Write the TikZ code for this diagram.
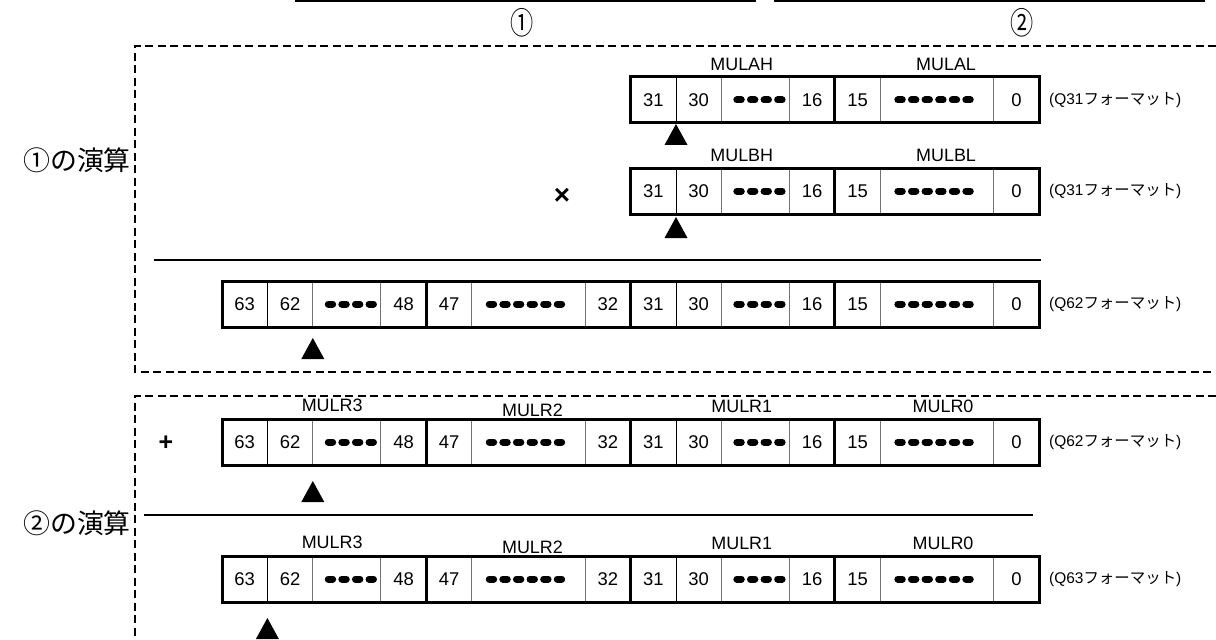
\documentclass[tikz,border=0pt]{standalone}
\usepackage{graphicx}
\usepackage{fontspec}
\setmainfont{Liberation Sans}
\newfontfamily\jp{Noto Sans CJK JP}
\tikzset{
  num/.style={font=\fontsize{18.5}{21}\selectfont, inner sep=0pt},
  reglab/.style={font=\fontsize{18}{21}\selectfont, inner sep=0pt},
  qlab/.style={font=\fontsize{15.5}{18}\selectfont, anchor=west, inner sep=0pt},
  oplab/.style={font=\jp\fontsize{27}{30}\selectfont, anchor=east, inner sep=0pt},
  hdr/.style={font=\jp\fontsize{31}{33}\selectfont, inner sep=0pt},
  sym/.style={font=\bfseries\fontsize{28}{30}\selectfont, inner sep=0pt},
  outerline/.style={line width=3bp},
  regsep/.style={line width=3bp},
  cellsep/.style={line width=1bp},
  cellsepg/.style={line width=1bp, black!55},
  dashbox/.style={line width=2bp, dash pattern=on 8bp off 4.5bp},
  rule/.style={line width=1.2bp},
  bitdot/.style={line width=7bp, line cap=round},
  tri/.style={fill=black},
}
\newcommand\dotgroup[3]{%
  \foreach \k in {1,...,#2}{%
    \draw[bitdot] ([xshift={(\k-(#2+1)/2)*13.6bp+(#3)-2.2bp}]#1) -- ++(4.4bp,0);
  }}
% one pair of registers (9 units wide), origin = top-left corner of the pair
\newcommand\regpair[6]{%
  \node[num] (#1a) at (0.5,23) {#2};
  \node[num] (#1b) at (1.5,23) {#3};
  \coordinate (#1c) at (2.75,23); \dotgroup{#1c}{4}{4bp}
  \node[num] (#1d) at (4,23) {#4};
  \node[num] (#1e) at (5,23) {#5};
  \coordinate (#1f) at (6.75,23); \dotgroup{#1f}{6}{-3bp}
  \node[num] (#1g) at (8.5,23) {#6};
  \draw[cellsep] (1,0) -- (1,46);
  \draw[cellsepg] (2,0) -- (2,46) (3.5,0) -- (3.5,46) (5.5,0) -- (5.5,46) (8,0) -- (8,46);
  \draw[regsep] (4.5,0) -- (4.5,46);
  \draw[outerline] (0,0) rectangle (9,46);
}
\begin{document}
\begin{tikzpicture}[x=1bp,y=-1bp]
\useasboundingbox (0,0) rectangle (1216,640);

% header rules and marks
\coordinate (h1a) at (295,1); \coordinate (h1b) at (756,1);
\coordinate (h2a) at (774,1); \coordinate (h2b) at (1205,1);
\draw[rule] (h1a) -- (h1b);
\draw[rule] (h2a) -- (h2b);
\node[hdr] (m1) at (522,23) {\scalebox{0.75}[1]{①}};
\node[hdr] (m2) at (1022,23) {\scalebox{0.75}[1]{②}};

% dashed frames
\coordinate (f1a) at (1216,46); \coordinate (f1b) at (135,46);
\coordinate (f1c) at (135,372); \coordinate (f1d) at (1216,372);
\draw[dashbox] (f1a) -- (f1b) -- (f1c) -- (f1d);
\coordinate (f2a) at (1216,396); \coordinate (f2b) at (135,396);
\coordinate (f2c) at (135,640);
\draw[dashbox] (f2a) -- (f2b) -- (f2c);

\node[oplab] (op1) at (131,160) {①の演算};
\node[oplab] (op2) at (131,523) {②の演算};

% Row A : MULAH / MULAL
\begin{scope}[shift={(630.6bp,-77bp)}, x=45.4bp]
  \regpair{A}{31}{30}{16}{15}{0}
  \node[reglab, xshift=9bp] (labAH) at (2.25,-12.5) {MULAH};
  \node[reglab, xshift=9bp] (labAL) at (6.75,-12.5) {MULAL};
  \coordinate (triA) at (1,47);
  \fill[tri] (triA) -- ++(-11.5bp,-21bp) -- ++(23bp,0) -- cycle;
\end{scope}
\node[qlab] (qA) at (1049,100) {(Q31{\jp フォーマット})};

% Row B : MULBH / MULBL
\begin{scope}[shift={(630.6bp,-168bp)}, x=45.4bp]
  \regpair{B}{31}{30}{16}{15}{0}
  \node[reglab, xshift=9bp] (labBH) at (2.25,-13) {MULBH};
  \node[reglab, xshift=9bp] (labBL) at (6.75,-13) {MULBL};
  \coordinate (triB) at (1,49);
  \fill[tri] (triB) -- ++(-11.5bp,-21bp) -- ++(23bp,0) -- cycle;
\end{scope}
\node[qlab] (qB) at (1049,191) {(Q31{\jp フォーマット})};
\node[sym] (times) at (562,196) {×};

\coordinate (r1a) at (154,260); \coordinate (r1b) at (1041,260);
\draw[rule] (r1a) -- (r1b);

% Row C : product
\begin{scope}[shift={(222bp,-281bp)}, x=45.4bp]
  \regpair{Cu}{63}{62}{48}{47}{32}
  \begin{scope}[xshift=408.6bp]
    \regpair{Cl}{31}{30}{16}{15}{0}
  \end{scope}
  \coordinate (triC) at (2,57);
  \fill[tri] (triC) -- ++(-11.5bp,-21bp) -- ++(23bp,0) -- cycle;
\end{scope}
\node[qlab] (qC) at (1049,304) {(Q62{\jp フォーマット})};

% Row D : MULR3..0 (Q62)
\begin{scope}[shift={(222bp,-419bp)}, x=45.4bp]
  \regpair{Du}{63}{62}{48}{47}{32}
  \begin{scope}[xshift=408.6bp]
    \regpair{Dl}{31}{30}{16}{15}{0}
  \end{scope}
  \node[reglab, xshift=8bp] (labD3) at (2.25,-13.5) {MULR3};
  \node[reglab, xshift=4bp] (labD2) at (6.75,-8.5) {MULR2};
  \node[reglab, xshift=9bp] (labD1) at (11.25,-12.5) {MULR1};
  \node[reglab, xshift=6bp] (labD0) at (15.75,-12.5) {MULR0};
  \coordinate (triD) at (2,62);
  \fill[tri] (triD) -- ++(-11.5bp,-21bp) -- ++(23bp,0) -- cycle;
\end{scope}
\node[qlab] (qD) at (1049,442) {(Q62{\jp フォーマット})};
\node[sym, font=\bfseries\fontsize{25}{28}\selectfont] (plus) at (166,443) {+};

\coordinate (r2a) at (144,515); \coordinate (r2b) at (1033,515);
\draw[rule] (r2a) -- (r2b);

% Row E : MULR3..0 (Q63)
\begin{scope}[shift={(222bp,-556bp)}, x=45.4bp]
  \regpair{Eu}{63}{62}{48}{47}{32}
  \begin{scope}[xshift=408.6bp]
    \regpair{El}{31}{30}{16}{15}{0}
  \end{scope}
  \node[reglab, xshift=8bp] (labE3) at (2.25,-13.5) {MULR3};
  \node[reglab, xshift=4bp] (labE2) at (6.75,-8.5) {MULR2};
  \node[reglab, xshift=9bp] (labE1) at (11.25,-12.5) {MULR1};
  \node[reglab, xshift=6bp] (labE0) at (15.75,-12.5) {MULR0};
  \coordinate (triE) at (1,62);
  \fill[tri] (triE) -- ++(-11.5bp,-21bp) -- ++(23bp,0) -- cycle;
\end{scope}
\node[qlab] (qE) at (1049,579) {(Q63{\jp フォーマット})};
\end{tikzpicture}
\end{document}
